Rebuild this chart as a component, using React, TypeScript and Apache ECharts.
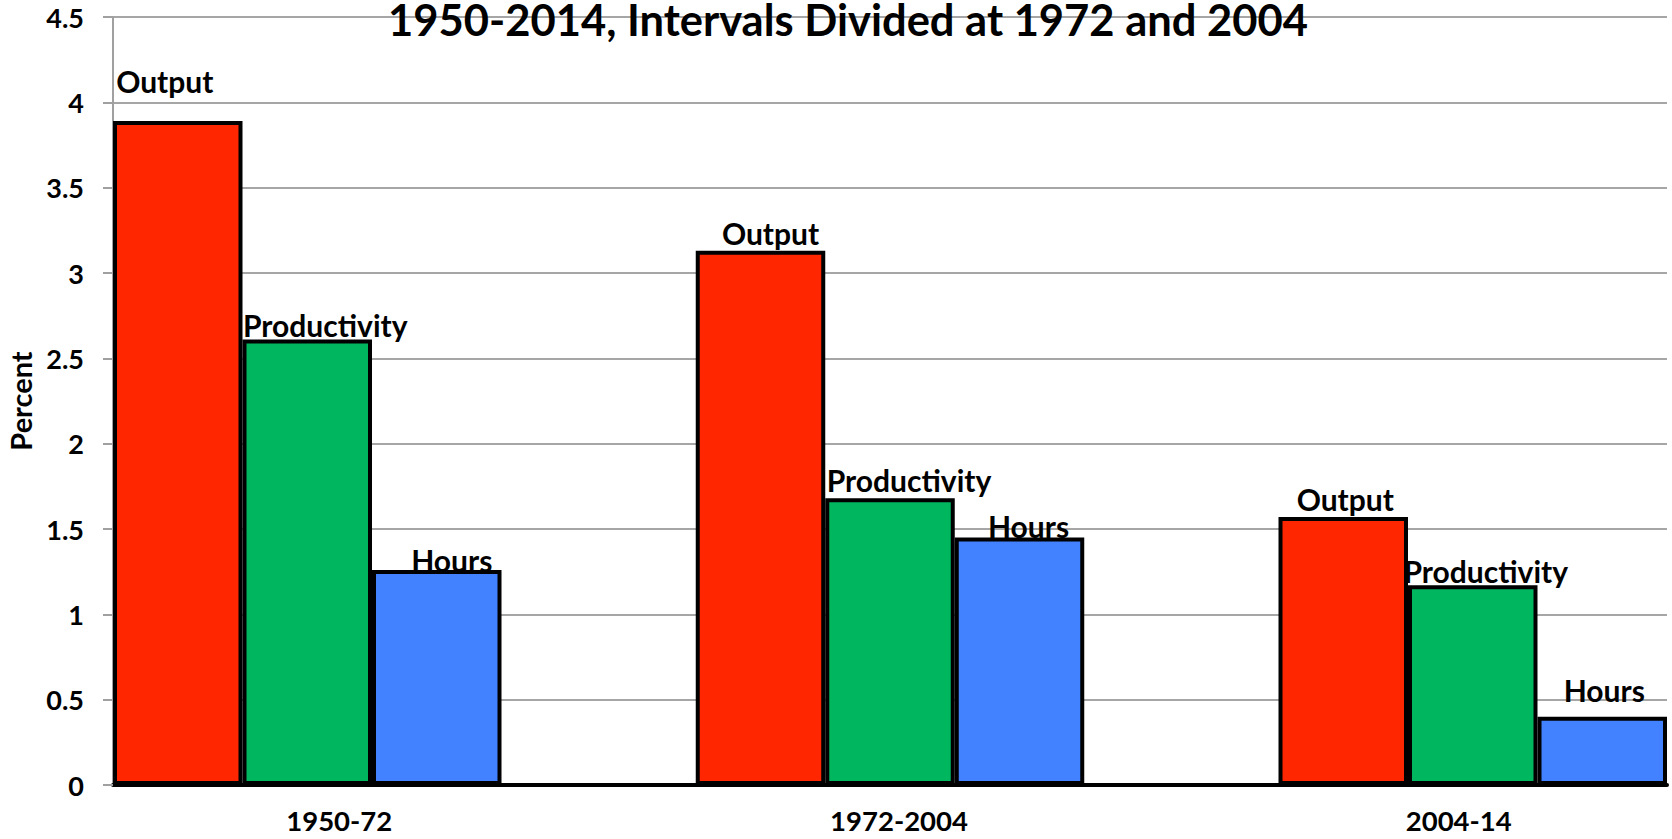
import React, { useEffect, useRef } from "react";
import * as echarts from "echarts";

const CATEGORIES = ["1950-72", "1972-2004", "2004-14"];
const SERIES_NAMES = ["Output", "Productivity", "Hours"];
const OUTPUT = [3.89, 3.13, 1.57];
const PRODUCTIVITY = [2.61, 1.68, 1.17];
const HOURS = [1.26, 1.45, 0.4];
const TITLE = "1950-2014, Intervals Divided at 1972 and 2004";
const Y_NAME = "Percent";

const COLORS = ["#ff2600", "#00b760", "#4281ff"];
// label nudges [dx, dy] per series, per category (styling only)
const LABEL_NUDGE = [
  [[-13, -22], [10, 0], [2, 0]],
  [[18, 3], [19, 0], [13, 4]],
  [[15, 8], [9, 6], [2, -9]],
];
// axis-label horizontal shift per category (styling only)
const CAT_LABEL_SHIFT = [32, 9, -14];

const FONT = "Lato";

export default function App() {
  const ref = useRef<HTMLDivElement>(null);
  useEffect(() => {
    document.body.style.margin = "0";
    const chart = echarts.init(ref.current!, null, { renderer: "svg" });
    const values = [OUTPUT, PRODUCTIVITY, HOURS];
    const posOf = (i: number) => i * 3 + 1;
    const rich: any = {};
    CATEGORIES.forEach((_, i) => {
      const s = CAT_LABEL_SHIFT[i];
      rich["c" + i] = {
        fontFamily: FONT,
        fontWeight: "bold",
        fontSize: 27.5,
        color: "#000",
        padding: s >= 0 ? [0, 0, 0, 2 * s] : [0, -2 * s, 0, 0],
      };
    });
    const option: any = {
      animation: false,
      backgroundColor: "#fff",
      title: {
        text: TITLE,
        left: 848,
        top: -3,
        textAlign: "center",
        padding: 0,
        textStyle: { fontFamily: FONT, fontWeight: "bold", fontSize: 43.5, color: "#000" },
      },
      grid: { left: 113, right: 5, top: 17, bottom: 54, containLabel: false, outerBoundsMode: "none" },
      xAxis: {
        type: "value",
        min: 0,
        max: 8,
        interval: 1,
        splitLine: { show: false },
        axisTick: { show: false },
        axisLine: { show: true, onZero: true, lineStyle: { color: "#000", width: 4 } },
        axisLabel: {
          margin: 21,
          showMinLabel: true,
          showMaxLabel: true,
          hideOverlap: false,
          formatter: (v: number) => {
            const k = Math.round(v);
            if ((k - 1) % 3 !== 0) return "";
            const i = (k - 1) / 3;
            if (i < 0 || i >= CATEGORIES.length) return "";
            return "{c" + i + "|" + CATEGORIES[i] + "}";
          },
          rich,
        },
      },
      yAxis: {
        type: "value",
        min: 0,
        max: 4.5,
        interval: 0.5,
        name: Y_NAME,
        nameLocation: "middle",
        nameGap: 73,
        nameTextStyle: { fontFamily: FONT, fontWeight: "bold", fontSize: 29, color: "#000" },
        axisLine: { show: true, lineStyle: { color: "#a0a0a0", width: 2 } },
        axisTick: { show: true, length: 10, lineStyle: { color: "#a0a0a0", width: 2 } },
        splitLine: { show: true, lineStyle: { color: "#a6a6a6", width: 2 } },
        axisLabel: {
          margin: 29,
          fontFamily: FONT,
          fontWeight: "bold",
          fontSize: 27,
          color: "#000",
        },
      },
      series: SERIES_NAMES.map((name, s) => ({
        name,
        type: "bar",
        barWidth: 129.5,
        barGap: "0%",
        itemStyle: { color: COLORS[s], borderColor: "#000", borderWidth: 4 },
        label: {
          show: true,
          position: "top",
          distance: 3,
          formatter: name,
          fontFamily: FONT,
          fontWeight: "bold",
          fontSize: 30,
          color: "#000",
        },
        data: values[s].map((v, i) => ({
          value: [posOf(i), v],
          label: { offset: LABEL_NUDGE[s][i] },
        })),
      })),
    };
    chart.setOption(option);
    return () => chart.dispose();
  }, []);
  return (
    <div
      ref={ref}
      style={{ position: "fixed", left: 0, top: 0, width: "1672px", height: "839px" }}
    />
  );
}
